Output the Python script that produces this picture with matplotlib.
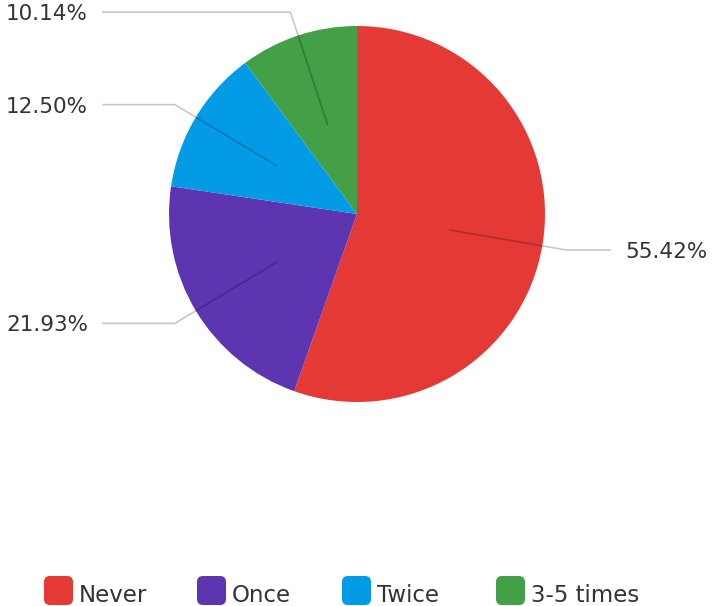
import numpy as np
import matplotlib
matplotlib.use("Agg")
import matplotlib.pyplot as plt
from matplotlib.patches import FancyBboxPatch

categories = ["Never", "Once", "Twice", "3-5 times"]
values = [55.42, 21.93, 12.50, 10.14]
labels = ["55.42%", "21.93%", "12.50%", "10.14%"]
colors = ["#E53935", "#5E35B1", "#039BE5", "#43A047"]

W, H = 717, 606
fig = plt.figure(figsize=(W / 100, H / 100), dpi=100)
ax = fig.add_axes([0, 0, 1, 1])

cx, cy, R = 357, H - 214, 188
wedges, _ = ax.pie(values, colors=colors, startangle=90, counterclock=False,
                   center=(cx, cy), radius=R, frame=True,
                   wedgeprops=dict(linewidth=0))
ax.set_xlim(0, W)
ax.set_ylim(0, H)
ax.set_aspect("equal")
ax.axis("off")

font = "DejaVu Sans"
txtcol = "#333333"
fs = 15.5
for w, lab in zip(wedges, labels):
    ang = np.deg2rad((w.theta1 + w.theta2) / 2)
    x0 = cx + 0.5 * R * np.cos(ang)
    y0 = cy + 0.5 * R * np.sin(ang)
    x1 = cx + 1.13 * R * np.cos(ang)
    y1 = cy + 1.13 * R * np.sin(ang)
    if np.cos(ang) >= 0:
        x2 = 610
        ax.text(625, y1 - 8, lab, ha="left", va="baseline", fontsize=fs,
                family=font, color=txtcol)
    else:
        x2 = 103
        ax.text(88, y1 - 8, lab, ha="right", va="baseline", fontsize=fs,
                family=font, color=txtcol)
    ax.plot([x0, x1, x2], [y0, y1, y1], color="black", alpha=0.22,
            lw=1.2, solid_joinstyle="miter", zorder=5)

# legend
leg_marker_x = [44, 197, 342, 496]
msz = 29
for mx, c, cat in zip(leg_marker_x, colors, categories):
    p = FancyBboxPatch((mx, H - 605), msz, msz,
                       boxstyle="round,pad=0,rounding_size=6",
                       facecolor=c, edgecolor="none")
    ax.add_patch(p)
    ax.text(mx + msz + 6, H - 602, cat, ha="left", va="baseline",
            fontsize=16.5, family=font, color=txtcol)

fig.savefig("out.png", dpi=100)
